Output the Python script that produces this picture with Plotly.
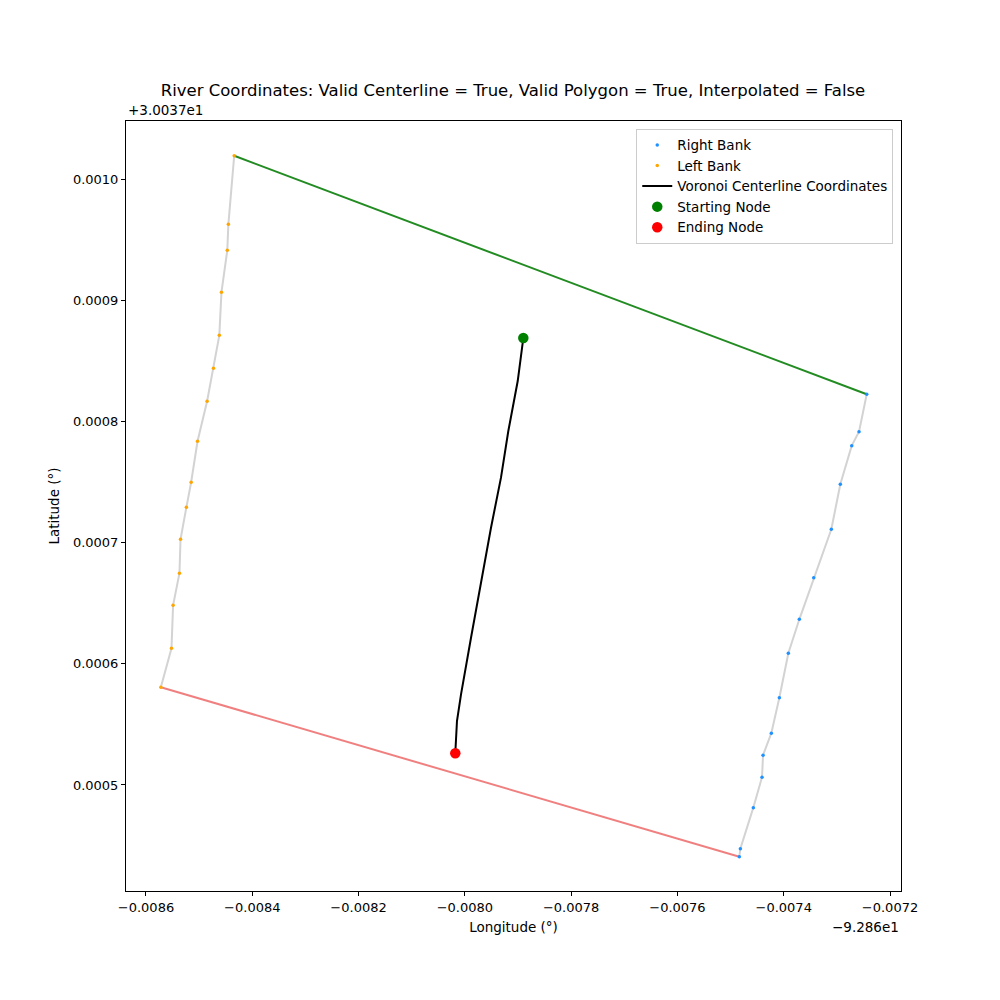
import plotly.graph_objects as go

# Offsets (axis offset notation like the original)
X_BASE = -92.86
Y_BASE = 30.037

left_x = [-0.008434, -0.008445, -0.008447, -0.008458, -0.008462, -0.008473, -0.008485,
          -0.008503, -0.008515, -0.008524, -0.008535, -0.008537, -0.008549, -0.008552, -0.008572]
left_y = [0.0010192, 0.0009626, 0.0009412, 0.0009065, 0.0008710, 0.0008438, 0.0008166,
          0.0007836, 0.0007498, 0.0007291, 0.0007027, 0.0006747, 0.0006483, 0.0006128, 0.0005806]

right_x = [-0.0072438, -0.0072583, -0.0072720, -0.0072935, -0.0073104, -0.0073435, -0.0073706,
           -0.0073913, -0.0074082, -0.0074233, -0.0074389, -0.0074408, -0.0074572, -0.0074816, -0.0074835]
right_y = [0.0008224, 0.0007915, 0.0007800, 0.0007481, 0.0007110, 0.0006710, 0.0006367,
           0.0006087, 0.0005720, 0.0005427, 0.0005245, 0.0005064, 0.0004813, 0.0004474, 0.0004408]

center_x = [-0.0078900, -0.0079005, -0.0079182, -0.0079320, -0.0079508, -0.0079696,
            -0.0079884, -0.0080072, -0.0080148, -0.0080180]
center_y = [0.0008688, 0.0008333, 0.0007921, 0.0007536, 0.0007123, 0.0006683,
            0.0006215, 0.0005748, 0.0005528, 0.0005262]

x_ticks = [-0.0086, -0.0084, -0.0082, -0.0080, -0.0078, -0.0076, -0.0074, -0.0072]
y_ticks = [0.0005, 0.0006, 0.0007, 0.0008, 0.0009, 0.0010]

TITLE = "River Coordinates: Valid Centerline = True, Valid Polygon = True, Interpolated = False"

ax = lambda v: [X_BASE + a for a in v]
ay = lambda v: [Y_BASE + a for a in v]

FONT = "DejaVu Sans"
fig = go.Figure()

# bank outlines
fig.add_trace(go.Scatter(x=ax(left_x), y=ay(left_y), mode="lines",
                         line=dict(color="lightgray", width=2), showlegend=False, hoverinfo="skip"))
fig.add_trace(go.Scatter(x=ax(right_x), y=ay(right_y), mode="lines",
                         line=dict(color="lightgray", width=2), showlegend=False, hoverinfo="skip"))
# top and bottom connectors
fig.add_trace(go.Scatter(x=ax([left_x[0], right_x[0]]), y=ay([left_y[0], right_y[0]]), mode="lines",
                         line=dict(color="forestgreen", width=2), showlegend=False))
fig.add_trace(go.Scatter(x=ax([left_x[-1], right_x[-1]]), y=ay([left_y[-1], right_y[-1]]), mode="lines",
                         line=dict(color="lightcoral", width=2), showlegend=False))

fig.add_trace(go.Scatter(x=ax(right_x), y=ay(right_y), mode="markers", name="Right Bank",
                         marker=dict(color="dodgerblue", size=3.5)))
fig.add_trace(go.Scatter(x=ax(left_x), y=ay(left_y), mode="markers", name="Left Bank",
                         marker=dict(color="orange", size=3.5)))
fig.add_trace(go.Scatter(x=ax(center_x), y=ay(center_y), mode="lines",
                         name="Voronoi Centerline Coordinates", line=dict(color="black", width=2)))
fig.add_trace(go.Scatter(x=ax(center_x[:1]), y=ay(center_y[:1]), mode="markers", name="Starting Node",
                         marker=dict(color="green", size=10.5)))
fig.add_trace(go.Scatter(x=ax(center_x[-1:]), y=ay(center_y[-1:]), mode="markers", name="Ending Node",
                         marker=dict(color="red", size=10.5)))

def fmt(v):
    s = f"{v:.4f}"
    return s.replace("-", "\u2212")

fig.update_layout(
    width=1000, height=1000,
    margin=dict(l=118, r=107, t=113, b=117),
    paper_bgcolor="white", plot_bgcolor="white",
    font=dict(family=FONT, size=13, color="black"),
    title=dict(text=TITLE, x=0.505, xanchor="center", y=0.918, yanchor="middle",
               font=dict(family=FONT, size=16.5, color="black")),
    xaxis=dict(range=[X_BASE - 0.0086376, X_BASE - 0.0071793], showgrid=False, zeroline=False,
               showline=True, linecolor="black", linewidth=1, mirror=True,
               ticks="outside", ticklen=4, tickcolor="black",
               tickvals=ax(x_ticks), ticktext=[fmt(v) for v in x_ticks],
               title=dict(text="Longitude (°)", font=dict(size=13.5), standoff=8)),
    yaxis=dict(range=[Y_BASE + 0.0004125, Y_BASE + 0.0010479], showgrid=False, zeroline=False,
               showline=True, linecolor="black", linewidth=1, mirror=True,
               ticks="outside", ticklen=4, tickcolor="black",
               tickvals=ay(y_ticks), ticktext=[fmt(v) for v in y_ticks],
               title=dict(text="Latitude (°)", font=dict(size=13.5), standoff=10)),
    legend=dict(x=0.99, y=0.99, xanchor="right", yanchor="top",
                bordercolor="#cccccc", borderwidth=1, bgcolor="rgba(255,255,255,0.8)",
                font=dict(size=13.5), tracegroupgap=0, itemwidth=30),
    showlegend=True,
)

fig.add_annotation(text="+3.0037e1", xref="paper", yref="paper", x=0, y=1.0, xanchor="left",
                   yanchor="bottom", showarrow=False, font=dict(size=13.5), yshift=1)
fig.add_annotation(text="\u22129.286e1", xref="paper", yref="paper", x=1.0, y=0, xanchor="right",
                   yanchor="top", showarrow=False, font=dict(size=13.5), yshift=-26)

fig.write_html("out.html")
